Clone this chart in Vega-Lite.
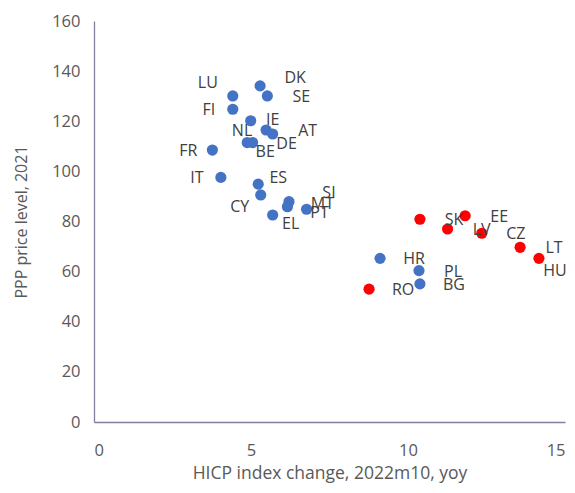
{
  "$schema": "https://vega.github.io/schema/vega-lite/v6.json",
  "width": 471,
  "height": 401,
  "autosize": {"type": "none"},
  "padding": {"left": 94, "top": 21, "right": 10, "bottom": 71},
  "background": "white",
  "config": {
    "view": {"stroke": null},
    "font": "Open Sans",
    "axis": {
      "grid": false,
      "ticks": false,
      "domainColor": "#80809E",
      "domainWidth": 1.3,
      "labelFont": "Open Sans",
      "labelFontSize": 16.5,
      "labelColor": "#595959",
      "titleFont": "Open Sans",
      "titleFontSize": 16,
      "titleFontWeight": "normal",
      "titleColor": "#595959"
    }
  },
  "data": {
    "values": [
      {"country": "DK", "hicp": 5.29, "ppp": 134.1, "group": "blue"},
      {"country": "SE", "hicp": 5.52, "ppp": 130.1, "group": "blue"},
      {"country": "LU", "hicp": 4.42, "ppp": 130.1, "group": "blue"},
      {"country": "FI", "hicp": 4.42, "ppp": 124.8, "group": "blue"},
      {"country": "IE", "hicp": 4.99, "ppp": 120.2, "group": "blue"},
      {"country": "NL", "hicp": 5.48, "ppp": 116.5, "group": "blue"},
      {"country": "AT", "hicp": 5.69, "ppp": 114.9, "group": "blue"},
      {"country": "DE", "hicp": 5.05, "ppp": 111.5, "group": "blue"},
      {"country": "BE", "hicp": 4.88, "ppp": 111.5, "group": "blue"},
      {"country": "FR", "hicp": 3.77, "ppp": 108.5, "group": "blue"},
      {"country": "IT", "hicp": 4.04, "ppp": 97.6, "group": "blue"},
      {"country": "ES", "hicp": 5.23, "ppp": 94.9, "group": "blue"},
      {"country": "CY", "hicp": 5.31, "ppp": 90.6, "group": "blue"},
      {"country": "SI", "hicp": 6.21, "ppp": 87.9, "group": "blue"},
      {"country": "MT", "hicp": 6.16, "ppp": 85.9, "group": "blue"},
      {"country": "PT", "hicp": 6.77, "ppp": 84.9, "group": "blue"},
      {"country": "EL", "hicp": 5.69, "ppp": 82.6, "group": "blue"},
      {"country": "HR", "hicp": 9.11, "ppp": 65.3, "group": "blue"},
      {"country": "PL", "hicp": 10.35, "ppp": 60.4, "group": "blue"},
      {"country": "BG", "hicp": 10.38, "ppp": 55.1, "group": "blue"},
      {"country": "SK", "hicp": 10.38, "ppp": 80.9, "group": "red"},
      {"country": "EE", "hicp": 11.82, "ppp": 82.3, "group": "red"},
      {"country": "LV", "hicp": 11.26, "ppp": 77.0, "group": "red"},
      {"country": "CZ", "hicp": 12.35, "ppp": 75.3, "group": "red"},
      {"country": "LT", "hicp": 13.57, "ppp": 69.7, "group": "red"},
      {"country": "HU", "hicp": 14.17, "ppp": 65.3, "group": "red"},
      {"country": "RO", "hicp": 8.76, "ppp": 53.0, "group": "red"}
    ]
  },
  "encoding": {
    "x": {
      "field": "hicp", "type": "quantitative",
      "scale": {"domain": [0, 15], "nice": false, "zero": true},
      "axis": {"values": [0, 5, 10, 15], "labelPadding": 20, "title": "HICP index change, 2022m10, yoy", "titlePadding": 6, "titleFontSize": 17.5}
    },
    "y": {
      "field": "ppp", "type": "quantitative",
      "scale": {"domain": [0, 160], "nice": false},
      "axis": {"values": [0, 20, 40, 60, 80, 100, 120, 140, 160], "labelPadding": 14, "title": "PPP price level, 2021", "titlePadding": 22}
    }
  },
  "layer": [
    {
      "mark": {"type": "point", "filled": true, "opacity": 1, "size": 125, "shape": "circle"},
      "encoding": {
        "color": {"field": "group", "type": "nominal", "scale": {"domain": ["blue", "red"], "range": ["#4472C4", "#FF0000"]}, "legend": null}
      }
    },
    {
      "transform": [{"filter": {"field": "country", "oneOf": ["SE", "DE", "HR", "PL", "BG", "SK", "EE", "LV", "CZ", "LT", "RO"]}}],
      "mark": {"type": "text", "align": "center", "baseline": "middle", "dx": 34, "dy": 1, "fontSize": 16, "color": "#404040"},
      "encoding": {"text": {"field": "country"}}
    },
    {
      "transform": [{"filter": {"field": "country", "oneOf": ["AT", "MT"]}}],
      "mark": {"type": "text", "align": "center", "baseline": "middle", "dx": 35, "dy": -3, "fontSize": 16, "color": "#404040"},
      "encoding": {"text": {"field": "country"}}
    },
    {
      "transform": [{"filter": {"field": "country", "oneOf": ["FI", "NL", "FR", "IT"]}}],
      "mark": {"type": "text", "align": "center", "baseline": "middle", "dx": -24, "dy": 1, "fontSize": 16, "color": "#404040"},
      "encoding": {"text": {"field": "country"}}
    },
    {
      "transform": [{"filter": {"field": "country", "equal": "DK"}}],
      "mark": {"type": "text", "align": "center", "baseline": "middle", "dx": 35, "dy": -8, "fontSize": 16, "color": "#404040"},
      "encoding": {"text": {"field": "country"}}
    },
    {
      "transform": [{"filter": {"field": "country", "equal": "SI"}}],
      "mark": {"type": "text", "align": "center", "baseline": "middle", "dx": 40, "dy": -9, "fontSize": 16, "color": "#404040"},
      "encoding": {"text": {"field": "country"}}
    },
    {
      "transform": [{"filter": {"field": "country", "equal": "LU"}}],
      "mark": {"type": "text", "align": "center", "baseline": "middle", "dx": -25, "dy": -13, "fontSize": 16, "color": "#404040"},
      "encoding": {"text": {"field": "country"}}
    },
    {
      "transform": [{"filter": {"field": "country", "equal": "IE"}}],
      "mark": {"type": "text", "align": "center", "baseline": "middle", "dx": 22, "dy": -1, "fontSize": 16, "color": "#404040"},
      "encoding": {"text": {"field": "country"}}
    },
    {
      "transform": [{"filter": {"field": "country", "equal": "ES"}}],
      "mark": {"type": "text", "align": "center", "baseline": "middle", "dx": 20, "dy": -6, "fontSize": 16, "color": "#404040"},
      "encoding": {"text": {"field": "country"}}
    },
    {
      "transform": [{"filter": {"field": "country", "oneOf": ["BE", "EL"]}}],
      "mark": {"type": "text", "align": "center", "baseline": "middle", "dx": 18, "dy": 9, "fontSize": 16, "color": "#404040"},
      "encoding": {"text": {"field": "country"}}
    },
    {
      "transform": [{"filter": {"field": "country", "equal": "HU"}}],
      "mark": {"type": "text", "align": "center", "baseline": "middle", "dx": 16, "dy": 13, "fontSize": 16, "color": "#404040"},
      "encoding": {"text": {"field": "country"}}
    },
    {
      "transform": [{"filter": {"field": "country", "equal": "PT"}}],
      "mark": {"type": "text", "align": "center", "baseline": "middle", "dx": 13, "dy": 4, "fontSize": 16, "color": "#404040"},
      "encoding": {"text": {"field": "country"}}
    },
    {
      "transform": [{"filter": {"field": "country", "equal": "CY"}}],
      "mark": {"type": "text", "align": "center", "baseline": "middle", "dx": -21, "dy": 12, "fontSize": 16, "color": "#404040"},
      "encoding": {"text": {"field": "country"}}
    }
  ]
}
